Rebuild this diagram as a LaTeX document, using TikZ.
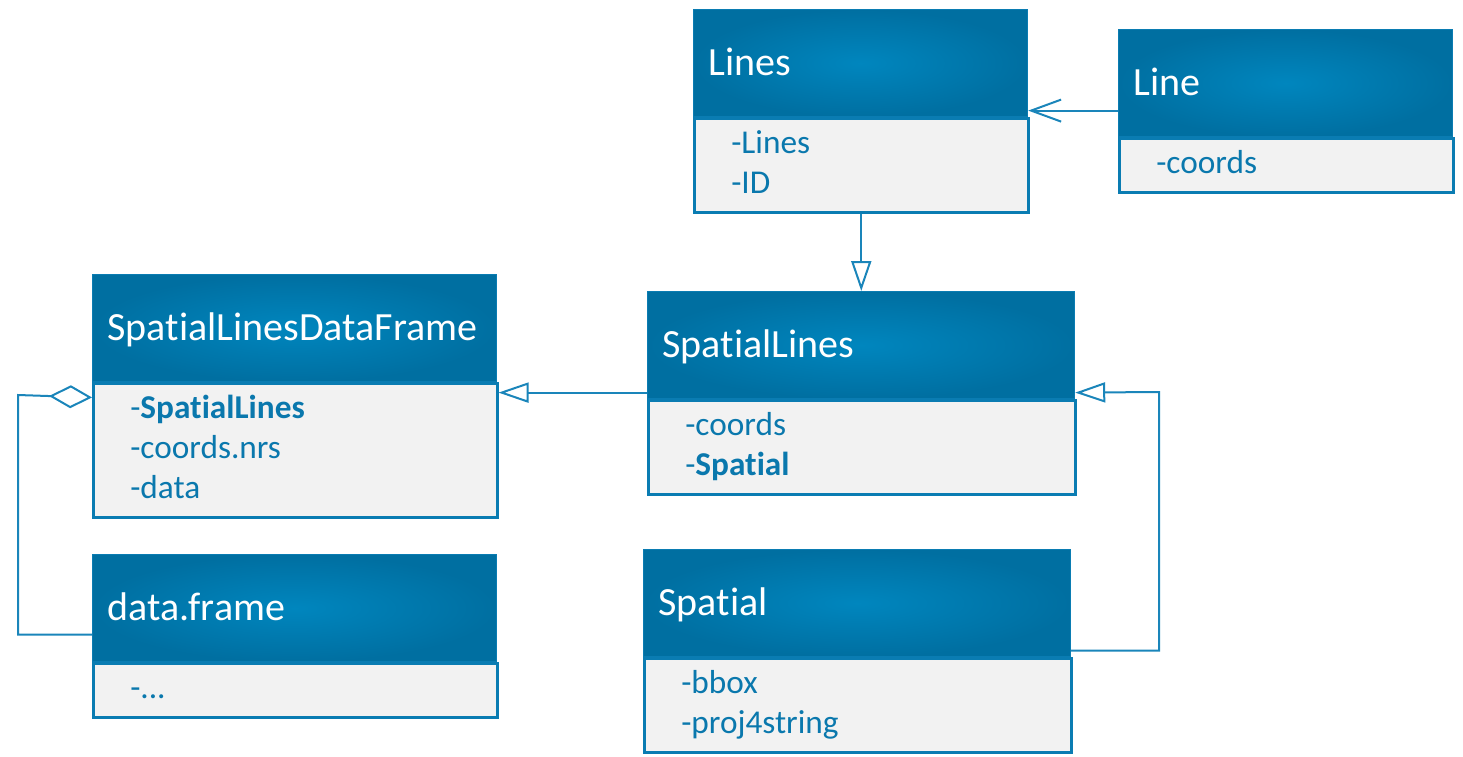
\documentclass[tikz,border=0pt]{standalone}
\usepackage{fontspec}
\setmainfont{Carlito}[Ligatures=NoCommon]
\usetikzlibrary{arrows.meta}
\definecolor{hdrin}{HTML}{0086BE}
\definecolor{hdrout}{HTML}{006FA1}
\definecolor{bodyfill}{HTML}{F2F2F2}
\definecolor{edgecol}{HTML}{0A7CB2}
\definecolor{attrcol}{HTML}{0A78AD}
\definecolor{conncol}{HTML}{1A85BA}
\newcommand\attrstrut{\rule[-12pt]{0pt}{40pt}}
\newcommand\hdrstrut{\rule[-13pt]{0pt}{51pt}}
\begin{document}
\begin{tikzpicture}[x=1pt,y=-1pt,
  hdr/.style={shading=radial, inner color=hdrin, outer color=hdrout, draw=edgecol, line width=1.2pt,
    anchor=north west, minimum height=107pt, inner xsep=15pt, inner ysep=0pt, align=left,
    text=white, font=\fontsize{40}{48}\selectfont},
  bodybox/.style={fill=bodyfill, draw=edgecol, line width=2.5pt, anchor=north west,
    inner xsep=37pt, inner ysep=0pt, align=left, text=attrcol, font=\fontsize{33.3}{40}\selectfont},
  conn/.style={draw=conncol, line width=2pt},
  tri/.style={conn, -{Triangle[open, length=30pt, width=20pt]}},
  vee/.style={conn, -{Straight Barb[length=30pt, width=22pt]}},
  dia/.style={conn, -{Diamond[open, length=43pt, width=23pt]}}
]
\useasboundingbox (0,0) rectangle (1463,756);

% Lines
\node[hdr, text width=304pt] (linesH) at (693,9) {\hdrstrut Lines};
\node[bodybox, text width=260pt, minimum height=94pt] (linesB) at (linesH.south west) {\attrstrut-Lines\\\attrstrut-ID};
% Line
\node[hdr, text width=304pt] (lineH) at (1118,29) {\hdrstrut Line};
\node[bodybox, text width=260pt, minimum height=54pt] (lineB) at (lineH.south west) {\attrstrut-coords};
% SpatialLinesDataFrame
\node[hdr, text width=374pt] (sldfH) at (92,274) {\hdrstrut SpatialLinesDataFrame};
\node[bodybox, text width=330pt, minimum height=134pt] (sldfB) at (sldfH.south west) {\attrstrut-\textbf{SpatialLines}\\\attrstrut-coords.nrs\\\attrstrut-data};
% SpatialLines
\node[hdr, text width=397pt] (slH) at (647,291) {\hdrstrut SpatialLines};
\node[bodybox, text width=353pt, minimum height=94pt] (slB) at (slH.south west) {\attrstrut-coords\\\attrstrut-\textbf{Spatial}};
% data.frame
\node[hdr, text width=374pt] (dfH) at (92,554) {\hdrstrut data.frame};
\node[bodybox, text width=330pt, minimum height=54pt] (dfB) at (dfH.south west) {\attrstrut-...};
% Spatial
\node[hdr, text width=397pt] (spH) at (643,549) {\hdrstrut Spatial};
\node[bodybox, text width=353pt, minimum height=94pt] (spB) at (spH.south west) {\attrstrut-bbox\\\attrstrut-proj4string};

% connectors
\draw[vee] ([yshift=-27.5pt]lineH.west) -- ([yshift=-27.5pt]lineH.west -| linesH.east);
\draw[tri] (linesB.south) -- (linesB.south |- slH.north);
\draw[tri] ([yshift=-47.5pt]slH.west) -- ([yshift=-47.5pt]slH.west -| sldfB.east);
\draw[tri] ([yshift=-47.5pt]spH.east) -| (1159,392) -- ([yshift=-47.5pt]slH.east);
\draw[dia] ([yshift=-26.5pt]dfH.west) -| (18,395) -- ([yshift=53pt]sldfB.west);
\end{tikzpicture}
\end{document}
